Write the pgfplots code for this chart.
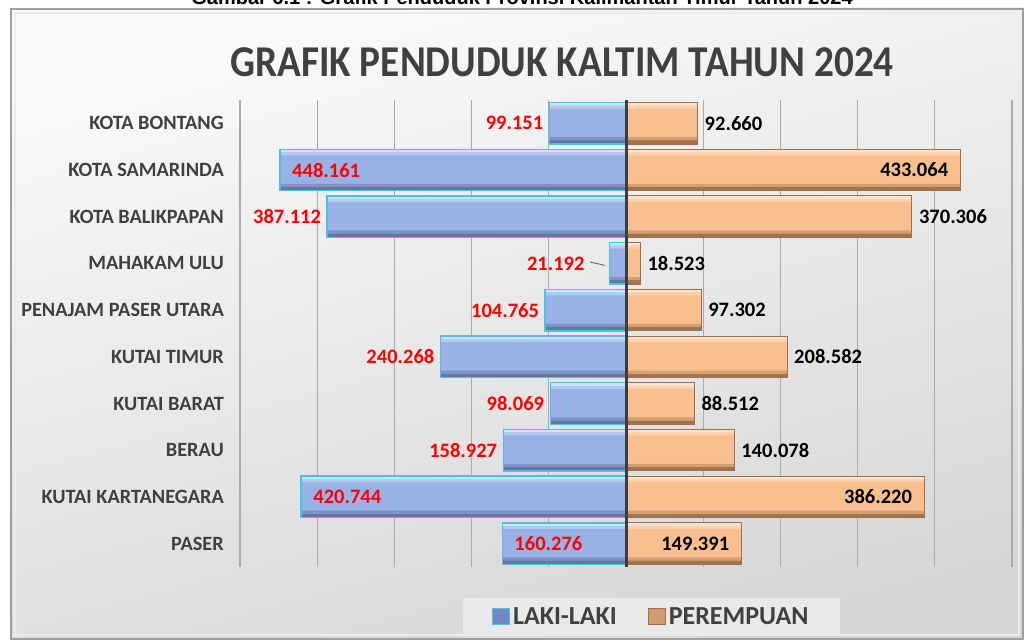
\documentclass[border=0pt]{standalone}
\usepackage{fontspec}
\setmainfont{Carlito}
\newfontfamily\arialfont{Liberation Sans}
\usepackage{graphicx}
\usepackage{pgfplots}
\usepackage{pgfplotstable}
\pgfplotsset{compat=1.18}

\definecolor{txtgray}{HTML}{404040}
\definecolor{lakifill}{HTML}{98B2E6}
\definecolor{lakidark}{HTML}{65779F}
\definecolor{lakimid}{HTML}{7E93C4}
\definecolor{lakilight}{HTML}{B4C9F2}
\definecolor{lakihi}{HTML}{D3E2FA}
\definecolor{lakiborder}{HTML}{4BC0EA}
\definecolor{lakimark}{HTML}{6F8AC2}
\definecolor{perfill}{HTML}{F9BF8F}
\definecolor{perdark}{HTML}{A2744E}
\definecolor{permid}{HTML}{D59F72}
\definecolor{perlight}{HTML}{FBD1AD}
\definecolor{perhi}{HTML}{FDE3CC}
\definecolor{perborder}{HTML}{9C7050}
\definecolor{permark}{HTML}{D39A6C}
\definecolor{gridgray}{HTML}{ABABAB}
\definecolor{legbg}{HTML}{E9E9E9}

% y: 9 = top row (Kota Bontang) ... 0 = bottom row (Paser)
% lin / pin: label placement, 0 = outside end, 1 = inside, 2 = outside with leader
\pgfplotstableread{
y laki perempuan lin pin
9 99151 92660 0 0
8 448161 433064 1 1
7 387112 370306 0 0
6 21192 18523 2 0
5 104765 97302 0 0
4 240268 208582 0 0
3 98069 88512 0 0
2 158927 140078 0 0
1 420744 386220 1 1
0 160276 149391 1 1
}\penduduk

\pgfplotsset{
  valuelabel/.style={forget plot, only marks, mark=none,
    nodes near coords={\pgfmathprintnumber{\pgfplotspointmeta}},
    nodes near coords style={inner sep=0pt, font=\bfseries\fontsize{20.5}{22}\selectfont, #1}},
  strip/.style 2 args={forget plot, xbar, bar shift=#1, bar width=#2, draw=none},
}

\begin{document}
\begin{tikzpicture}[x=1pt,y=1pt]
\useasboundingbox (0,0) rectangle (1026,642);
\clip (0,0) rectangle (1026,642);
\fill[white] (0,0) rectangle (1026,642);

% chart frame
\shade[top color=white!98!black, bottom color=white!84!black, shading angle=15] (10,2) rectangle (1023,634);
\draw[color=white!62!black, line width=2pt] (11,3) rectangle (1023,633);
\draw[color=white!92!black, line width=1.5pt] (15,7) rectangle (1019,629);

% caption (cut off at the top edge, as in the source)
\node[anchor=base, inner sep=0pt, font=\arialfont\bfseries\fontsize{20}{22}\selectfont] at (522,637)
  {Gambar 6.1 : Grafik Penduduk Provinsi Kalimantan Timur Tahun 2024};

% title
\node[anchor=base, inner sep=0pt, text=txtgray, font=\bfseries\fontsize{44}{48}\selectfont] at (562,565)
  {\scalebox{0.892}[1]{GRAFIK PENDUDUK KALTIM TAHUN 2024}};

\begin{axis}[
    at={(240pt,75pt)}, anchor=south west,
    scale only axis,
    width=772pt, height=467pt,
    xmin=-500000, xmax=500000,
    ymin=-0.5, ymax=9.5,
    xtick={-500000,-400000,-300000,-200000,-100000,100000,200000,300000,400000,500000},
    xticklabels={},
    scaled x ticks=false,
    xmajorgrids,
    grid style={color=gridgray, line width=1.3pt},
    ytick={0,...,9},
    yticklabels={PASER, KUTAI KARTANEGARA, BERAU, KUTAI BARAT, KUTAI TIMUR,
      PENAJAM PASER UTARA, MAHAKAM ULU, KOTA BALIKPAPAN, KOTA SAMARINDA, KOTA BONTANG},
    yticklabel style={font=\bfseries\fontsize{20.3}{22}\selectfont, text=txtgray, inner sep=0pt, anchor=east, xshift=-16pt},
    major tick length=0pt,
    axis line style={draw=none},
    tick style={draw=none},
    /pgf/number format/.cd, fixed, precision=0, 1000 sep={.}, assume math mode=true,
    /pgfplots/.cd,
    legend style={at={(0.533,-0.106)}, anchor=center, legend columns=2,
      fill=legbg, draw=none, text=txtgray,
      font=\bfseries\fontsize{26}{28}\selectfont,
      inner xsep=29pt, inner ysep=6pt,
      nodes={inner sep=3pt},
      /tikz/every even column/.append style={column sep=28pt}},
  ]

  % laki-laki bars (negative side)
  \addplot[xbar, bar shift=0pt, bar width=41.5pt, fill=lakifill, draw=none,
    legend image code/.code={\draw[fill=lakimark, draw=lakiborder, line width=1.5pt] (0pt,-8pt) rectangle (17pt,8pt);}]
    table[x expr=-\thisrow{laki}, y=y] {\penduduk};
  \addlegendentry{LAKI-LAKI}
  \addplot[strip={-18.75pt}{4pt}, fill=lakidark] table[x expr=-\thisrow{laki}, y=y] {\penduduk};
  \addplot[strip={-15.25pt}{3pt}, fill=lakimid] table[x expr=-\thisrow{laki}, y=y] {\penduduk};
  \addplot[strip={16.25pt}{3pt}, fill=lakilight] table[x expr=-\thisrow{laki}, y=y] {\penduduk};
  \addplot[strip={19.25pt}{3pt}, fill=lakihi] table[x expr=-\thisrow{laki}, y=y] {\penduduk};
  \addplot[forget plot, xbar, bar shift=0pt, bar width=41.5pt, fill=none, draw=lakiborder, line width=1.4pt]
    table[x expr=-\thisrow{laki}, y=y] {\penduduk};

  % perempuan bars (positive side)
  \addplot[xbar, bar shift=0pt, bar width=41.5pt, fill=perfill, draw=none,
    legend image code/.code={\draw[fill=permark, draw=perborder, line width=1pt] (0pt,-8pt) rectangle (17pt,8pt);}]
    table[x=perempuan, y=y] {\penduduk};
  \addlegendentry{PEREMPUAN}
  \addplot[strip={-18.75pt}{4pt}, fill=perdark] table[x=perempuan, y=y] {\penduduk};
  \addplot[strip={-15.25pt}{3pt}, fill=permid] table[x=perempuan, y=y] {\penduduk};
  \addplot[strip={16.25pt}{3pt}, fill=perlight] table[x=perempuan, y=y] {\penduduk};
  \addplot[strip={19.25pt}{3pt}, fill=perhi] table[x=perempuan, y=y] {\penduduk};
  \addplot[forget plot, xbar, bar shift=0pt, bar width=41.5pt, fill=none, draw=perborder, line width=1pt]
    table[x=perempuan, y=y] {\penduduk};

  % value labels, laki-laki (red)
  \addplot[valuelabel={anchor=east, xshift=-6pt, text=red}, point meta=\thisrow{laki},
    restrict expr to domain={\thisrow{lin}}{0:0}]
    table[x expr=-\thisrow{laki}, y=y] {\penduduk};
  \addplot[valuelabel={anchor=west, xshift=12pt, text=red}, point meta=\thisrow{laki},
    restrict expr to domain={\thisrow{lin}}{1:1}]
    table[x expr=-\thisrow{laki}, y=y] {\penduduk};
  \addplot[valuelabel={anchor=east, xshift=-25pt, text=red}, point meta=\thisrow{laki},
    restrict expr to domain={\thisrow{lin}}{2:2}]
    table[x expr=-\thisrow{laki}, y=y] {\penduduk};

  % value labels, perempuan (black)
  \addplot[valuelabel={anchor=west, xshift=7pt, text=black}, point meta=\thisrow{perempuan},
    restrict expr to domain={\thisrow{pin}}{0:0}]
    table[x=perempuan, y=y] {\penduduk};
  \addplot[valuelabel={anchor=east, xshift=-12pt, text=black}, point meta=\thisrow{perempuan},
    restrict expr to domain={\thisrow{pin}}{1:1}]
    table[x=perempuan, y=y] {\penduduk};

  % leader line for Mahakam Ulu and centre axis
  \draw[color=white!45!black, line width=1pt] (axis cs:-46500,6.03) -- (axis cs:-27500,5.96);
  \draw[color=white!24!black, line width=3pt] (axis cs:0,-0.53) -- (axis cs:0,9.5);
\end{axis}
\end{tikzpicture}
\end{document}
